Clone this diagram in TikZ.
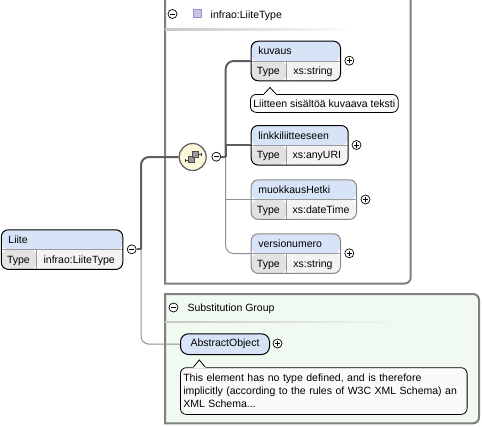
\documentclass[tikz,border=0pt]{standalone}
\usepackage{fontspec}
\setmainfont{Liberation Sans}
\definecolor{headblue}{HTML}{D7E4F7}
\definecolor{typegray}{HTML}{E2E2E2}
\definecolor{valgray}{HTML}{F3F3F3}
\definecolor{boxgray}{HTML}{808080}
\definecolor{optgray}{HTML}{888888}
\definecolor{divgray}{HTML}{9A9A9A}
\definecolor{substfill}{HTML}{F0FAF0}
\definecolor{seqfill}{HTML}{FCF8DC}
\definecolor{lav}{HTML}{CDC4EA}
\definecolor{lavb}{HTML}{9C8FC8}
\definecolor{tipfill}{HTML}{FAFAFA}
\definecolor{thickgray}{HTML}{5E5E5E}
\definecolor{thingray}{HTML}{8E8E8E}
\newcommand{\xelem}[7]{%
  \node[elem=#7, minimum width=#4pt] (#1) at (#2,#3) {};
  \node[lbl, anchor=base west] (#1-t) at (#2+7.5,#3+14) {#5};
  \node[lbl, anchor=base] (#1-k) at (#2+17.6,#3+33.8) {Type};
  \node[lbl, anchor=base] (#1-v) at ({#2+35.3+(#4-35.3)/2},#3+33.8) {#6};
}
\begin{document}
\begin{tikzpicture}[x=1pt,y=-1pt,
  every node/.style={font=\fontsize{10.5}{13}\selectfont},
  lbl/.style={inner sep=0},
  elem/.style={draw=#1, line width=1pt, rounded corners=7pt, minimum height=39.6pt,
    inner sep=0, anchor=north west,
    path picture={
      \fill[headblue] (path picture bounding box.north west) rectangle ([yshift=-19.8pt]path picture bounding box.north east);
      \fill[typegray] ([yshift=-19.8pt]path picture bounding box.north west) rectangle ([xshift=35.3pt]path picture bounding box.south west);
      \fill[valgray] ([xshift=35.3pt,yshift=-19.8pt]path picture bounding box.north west) rectangle (path picture bounding box.south east);
      \draw[divgray, line width=0.8pt] ([yshift=-19.8pt]path picture bounding box.north west) -- ([yshift=-19.8pt]path picture bounding box.north east);
      \draw[divgray, line width=0.8pt] ([xshift=35.3pt,yshift=-19.8pt]path picture bounding box.north west) -- ([xshift=35.3pt]path picture bounding box.south west);
    }},
  pm/.style={circle, draw=black, fill=white, line width=0.7pt, minimum size=9pt, inner sep=0},
  plusc/.style={pm, path picture={
      \draw[line width=0.8pt] ([xshift=-2.6pt]path picture bounding box.center) -- ([xshift=2.6pt]path picture bounding box.center);
      \draw[line width=0.8pt] ([yshift=-2.6pt]path picture bounding box.center) -- ([yshift=2.6pt]path picture bounding box.center);}},
  minusc/.style={pm, path picture={
      \draw[line width=0.8pt] ([xshift=-2.6pt]path picture bounding box.center) -- ([xshift=2.6pt]path picture bounding box.center);}},
  tip/.style={draw=black, line width=0.8pt, fill=tipfill, rounded corners=6pt, inner sep=0, align=left},
  thickc/.style={draw=thickgray, line width=2pt},
  thinc/.style={draw=thingray, line width=1pt},
  grpbox/.style={draw=boxgray, line width=2pt}
]
\useasboundingbox (0,0) rectangle (482,426);

% complex type box
\draw[grpbox, fill=white] (165,-3) -- (410.7,-3) -- (410.7,277.5)
  arc[start angle=0, end angle=-90, radius=6pt] -- (165,283.5) -- cycle;
\shade[left color=black!22, middle color=black!42, right color=white] (165,28.7) rectangle (357,30.6);
\node[minusc] (typem) at (172.5,14) {};
\node[draw=lavb, fill=lav, line width=0.7pt, minimum size=8pt, inner sep=0] (sq) at (197,13.5) {};
\node[lbl, anchor=base west] (typelbl) at (210.5,18.2) {infrao:LiiteType};

% substitution group box
\draw[grpbox, fill=substfill] (165,294) -- (473,294)
  arc[start angle=90, end angle=0, radius=6pt] -- (479,417.3)
  arc[start angle=0, end angle=-90, radius=6pt] -- (165,423.3) -- cycle;
\shade[left color=black!22, middle color=black!35, right color=substfill] (165,321) rectangle (403,322.8);
\node[minusc] (subm) at (173.5,307.5) {};
\node[lbl, anchor=base west] (sublbl) at (187.3,311.3) {Substitution Group};

% sequence compositor
\node[circle, draw=thickgray, line width=1.2pt, fill=seqfill, minimum size=27pt, inner sep=0] (seq) at (192.7,157) {};
\draw[black!75, line width=0.8pt] (185,158.8) -- (185,162.2);
\draw[black!75, line width=0.8pt] (185,160.5) -- (188,160.5);
\draw[black!75, line width=0.8pt] (198,154.5) -- (201,154.5);
\draw[black!75, line width=0.8pt] (201,152.8) -- (201,156.2);
\filldraw[fill=black!40, draw=black!70, line width=0.6pt] (188,156.5) rectangle (194,162.5);
\filldraw[fill=black!40, draw=black!70, line width=0.6pt] (192,151.5) rectangle (198,157.5);
\node[minusc] (seqm) at (216.3,156.7) {};

% elements
\xelem{liite}{0.8}{229.3}{121.5}{Liite}{infrao:LiiteType}{black}
\xelem{kuvaus}{250.7}{40.7}{89.3}{kuvaus}{xs:string}{black}
\xelem{linkki}{250.7}{125}{97}{linkkiliitteeseen}{xs:anyURI}{black}
\xelem{muok}{250.7}{179.3}{105.3}{muokkausHetki}{xs:dateTime}{optgray}
\xelem{versio}{250.7}{233.3}{89.3}{versionumero}{xs:string}{optgray}
\node[draw=black, line width=1pt, fill=headblue, rounded corners=8pt, minimum width=89pt,
  minimum height=20.7pt, anchor=north west, inner sep=0] (abs) at (180,333.3) {AbstractObject};

\node[minusc] (liitem) at (131.7,249.3) {};
\node[plusc] (kuvausp) at (349.3,60.7) {};
\node[plusc] (linkkip) at (356.5,145) {};
\node[plusc] (muokp) at (365.5,199.5) {};
\node[plusc] (versiop) at (349.3,253.3) {};
\node[plusc] (absp) at (277.5,343.5) {};

% tooltips
\node[tip, anchor=north west, minimum width=146pt, minimum height=18pt, inner xsep=3pt] (kdoc) at (250,94) {Liitteen sisältöä kuvaava teksti};
\fill[tipfill] (263.5,95) -- (270,87.5) -- (276.5,95) -- cycle;
\draw[black, line width=0.8pt] (264,94) -- (270,87.5) -- (276,94);
\node[tip, anchor=north west, minimum width=286.7pt, minimum height=46.7pt, inner xsep=2.5pt, text width=281pt] (adoc) at (180,367.3)
  {This element has no type defined, and is therefore\\implicitly (according to the rules of W3C XML Schema) an\\XML Schema...};
\fill[tipfill] (192.5,368) -- (199.3,360) -- (206.1,368) -- cycle;
\draw[black, line width=0.8pt] (193.2,367.3) -- (199.3,360) -- (205.4,367.3);

% connectors
\coordinate (j1) at (141,249.3);
\coordinate (j2) at (225.7,156.7);
\draw[thinc, rounded corners=8pt] (j1) |- (abs.west);
\draw[thinc] (j2) |- (muok.west);
\draw[thinc, rounded corners=8pt] (j2) |- (versio.west);
\draw[thickc] (liitem.east) -- (j1);
\draw[thickc, rounded corners=8pt] (j1) |- (seq.west);
\draw[thickc] (seqm.east) -- (j2);
\draw[thickc, rounded corners=8pt] (j2) |- (kuvaus.west);
\draw[thickc] (j2) |- (linkki.west);
\end{tikzpicture}
\end{document}
